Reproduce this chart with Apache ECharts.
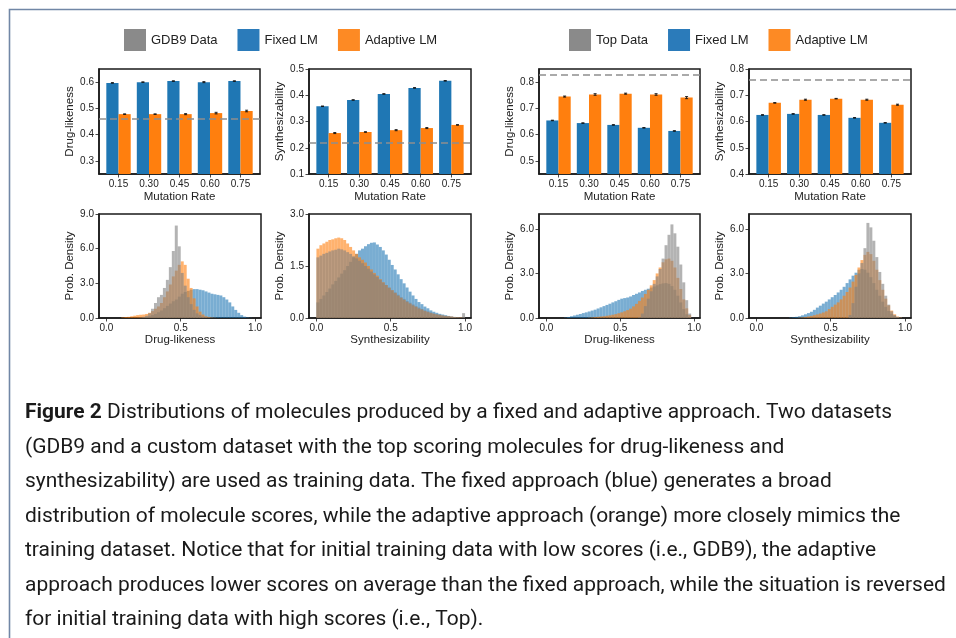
<!DOCTYPE html>
<html><head><meta charset="utf-8">
<script src="https://cdn.jsdelivr.net/npm/echarts@6/dist/echarts.min.js"></script>
<style>html,body{margin:0;padding:0;background:#fff}#c{width:956px;height:638px}</style>
</head><body><div id="c"></div>
<script>
// ---------------- data ----------------
const mutationRates = ['0.15', '0.30', '0.45', '0.60', '0.75'];

const gdb9DrugFixed    = [0.597, 0.600, 0.604, 0.600, 0.604];
const gdb9DrugAdaptive = [0.478, 0.478, 0.478, 0.482, 0.490];
const gdb9DrugFixedErr    = [0.001, 0.001, 0.001, 0.002, 0.001];
const gdb9DrugAdaptiveErr = [0.001, 0.001, 0.002, 0.003, 0.003];
const gdb9DrugDataMean = 0.455;

const gdb9SynthFixed    = [0.358, 0.382, 0.405, 0.428, 0.455];
const gdb9SynthAdaptive = [0.256, 0.260, 0.267, 0.275, 0.287];
const gdb9SynthFixedErr    = [0.001, 0.001, 0.001, 0.001, 0.001];
const gdb9SynthAdaptiveErr = [0.002, 0.001, 0.002, 0.002, 0.001];
const gdb9SynthDataMean = 0.219;

const topDrugFixed    = [0.654, 0.644, 0.637, 0.626, 0.614];
const topDrugAdaptive = [0.745, 0.753, 0.756, 0.753, 0.741];
const topDrugFixedErr    = [0.001, 0.001, 0.001, 0.001, 0.001];
const topDrugAdaptiveErr = [0.002, 0.003, 0.002, 0.003, 0.004];
const topDrugDataMean = 0.826;

const topSynthFixed    = [0.625, 0.629, 0.625, 0.614, 0.595];
const topSynthAdaptive = [0.671, 0.683, 0.687, 0.683, 0.664];
const topSynthFixedErr    = [0.001, 0.001, 0.001, 0.001, 0.001];
const topSynthAdaptiveErr = [0.001, 0.002, 0.001, 0.002, 0.002];
const topSynthDataMean = 0.755;

// tick labels
const gdb9DrugTicks  = [0.3, 0.4, 0.5, 0.6];
const gdb9SynthTicks = [0.1, 0.2, 0.3, 0.4, 0.5];
const topDrugTicks   = [0.5, 0.6, 0.7, 0.8];
const topSynthTicks  = [0.4, 0.5, 0.6, 0.7, 0.8];
const scoreTicks     = [0.0, 0.5, 1.0];
const gdb9DrugDensTicks  = [0, 3, 6, 9];
const gdb9SynthDensTicks = [0, 1.5, 3];
const topDensTicks       = [0, 3, 6];

// histogram bins (left edges)
const binStarts = [0.00,0.02,0.04,0.06,0.08,0.10,0.12,0.14,0.16,0.18,
                   0.20,0.22,0.24,0.26,0.28,0.30,0.32,0.34,0.36,0.38,
                   0.40,0.42,0.44,0.46,0.48,0.50,0.52,0.54,0.56,0.58,
                   0.60,0.62,0.64,0.66,0.68,0.70,0.72,0.74,0.76,0.78,
                   0.80,0.82,0.84,0.86,0.88,0.90,0.92,0.94,0.96,0.98];
const binWidth = 0.02;

const gdb9DrugHistData = [0,0,0,0,0,0,0,0,0,0,
  0.02,0.05,0.1,0.2,0.4,0.8,1.3,1.8,2.0,2.6,
  3.3,4.4,5.8,8.0,6.2,3.9,2.8,1.8,1.2,0.7,
  0.4,0.25,0.12,0.06,0.03,0,0,0,0,0,
  0,0,0,0,0,0,0,0,0,0];
const gdb9DrugHistFixed = [0,0,0,0,0,0,0,0,0,0,
  0,0,0.05,0.1,0.15,0.25,0.35,0.5,0.65,0.85,
  1.05,1.25,1.45,1.6,1.85,2.1,2.25,2.35,2.45,2.5,
  2.5,2.45,2.4,2.3,2.2,2.1,2.05,2.0,1.95,1.8,
  1.6,1.35,1.0,0.7,0.45,0.25,0.12,0.05,0.02,0];
const gdb9DrugHistAdaptive = [0,0,0,0,0,0.05,0.08,0.1,0.15,0.2,
  0.25,0.28,0.3,0.35,0.45,0.6,0.8,1.0,1.3,1.8,
  2.3,2.9,3.6,4.1,4.6,4.9,4.6,3.4,2.6,1.7,
  1.0,0.55,0.3,0.15,0.08,0.04,0.02,0,0,0,
  0,0,0,0,0,0,0,0,0,0];

const gdb9SynthHistData = [1.75,1.8,1.85,1.88,1.92,1.95,1.97,2.0,1.98,1.95,
  1.9,1.85,1.78,1.72,1.65,1.58,1.5,1.42,1.34,1.26,
  1.18,1.1,1.02,0.95,0.88,0.8,0.74,0.67,0.6,0.55,
  0.49,0.44,0.39,0.34,0.3,0.26,0.22,0.19,0.16,0.13,
  0.11,0.09,0.07,0.06,0.05,0.04,0.03,0.02,0.02,0.14];
const gdb9SynthHistFixed = [0.45,0.55,0.65,0.75,0.85,0.97,1.07,1.17,1.28,1.38,
  1.5,1.62,1.75,1.85,1.95,2.0,2.07,2.13,2.17,2.18,
  2.12,2.05,1.95,1.83,1.68,1.53,1.4,1.26,1.12,1.0,
  0.88,0.76,0.65,0.55,0.46,0.4,0.33,0.28,0.22,0.18,
  0.15,0.12,0.1,0.08,0.06,0.04,0.03,0.02,0.01,0.01];
const gdb9SynthHistAdaptive = [2.0,2.1,2.15,2.2,2.25,2.27,2.3,2.32,2.3,2.25,
  2.15,2.05,1.95,1.85,1.75,1.68,1.6,1.5,1.4,1.3,
  1.22,1.12,1.03,0.95,0.87,0.8,0.72,0.64,0.58,0.52,
  0.46,0.41,0.36,0.32,0.27,0.24,0.2,0.17,0.14,0.12,
  0.1,0.09,0.07,0.06,0.05,0.04,0.03,0.02,0.02,0.01];

const topDrugHistData = [0,0,0,0,0,0,0,0,0,0,
  0,0,0,0,0,0,0,0,0,0,
  0,0,0,0,0,0,0,0,0,0,
  0,0.05,0.3,0.8,1.3,1.8,2.3,2.8,3.3,4.0,
  4.9,5.6,6.3,5.7,4.8,3.6,2.4,1.2,0.3,0];
const topDrugHistFixed = [0,0,0,0,0,0,0.03,0.07,0.12,0.17,
  0.22,0.27,0.33,0.38,0.44,0.5,0.56,0.64,0.72,0.8,
  0.88,0.96,1.05,1.13,1.22,1.3,1.34,1.38,1.45,1.55,
  1.63,1.72,1.82,1.9,1.97,2.05,2.12,2.2,2.28,2.33,
  2.35,2.3,2.15,1.9,1.5,1.05,0.6,0.25,0.05,0];
const topDrugHistAdaptive = [0,0,0,0,0,0,0,0,0,0,
  0,0,0,0,0.02,0.04,0.06,0.08,0.1,0.12,
  0.15,0.18,0.22,0.26,0.32,0.38,0.45,0.53,0.63,0.78,
  0.95,1.15,1.38,1.62,1.9,2.2,2.55,3.0,3.4,3.75,
  3.95,4.0,3.85,3.4,2.7,1.95,1.25,0.65,0.2,0];

const topSynthHistData = [0,0,0,0,0,0,0,0,0,0,
  0,0,0,0,0,0,0,0,0,0,
  0,0,0,0,0,0,0,0,0,0,
  0,0.2,1.0,2.1,3.0,3.7,4.7,6.4,6.1,5.2,
  4.1,3.1,2.3,1.5,0.9,0.45,0.2,0.07,0.02,0];
const topSynthHistFixed = [0,0,0,0,0,0,0,0,0,0,
  0,0.03,0.05,0.08,0.12,0.18,0.25,0.33,0.42,0.55,
  0.7,0.83,0.97,1.1,1.25,1.4,1.55,1.72,1.9,2.1,
  2.35,2.6,2.85,3.05,3.25,3.3,3.25,3.05,2.75,2.35,
  1.9,1.5,1.1,0.75,0.47,0.28,0.14,0.06,0.02,0];
const topSynthHistAdaptive = [0,0,0,0,0,0,0,0,0,0,
  0,0,0,0,0.02,0.04,0.06,0.1,0.14,0.19,
  0.24,0.3,0.37,0.45,0.6,0.75,0.9,1.05,1.25,1.5,
  1.75,2.05,2.45,2.9,3.4,3.9,4.25,4.45,4.3,3.85,
  3.25,2.55,1.9,1.3,0.85,0.5,0.25,0.1,0.03,0];

const captionLines = [
  'Distributions of molecules produced by a fixed and adaptive approach. Two datasets',
  '(GDB9 and a custom dataset with the top scoring molecules for drug-likeness and',
  'synthesizability) are used as training data. The fixed approach (blue) generates a broad',
  'distribution of molecule scores, while the adaptive approach (orange) more closely mimics the',
  'training dataset. Notice that for initial training data with low scores (i.e., GDB9), the adaptive',
  'approach produces lower scores on average than the fixed approach, while the situation is reversed',
  'for initial training data with high scores (i.e., Top).'
];
const captionLabel = 'Figure 2';

// ---------------- styling / layout ----------------
const FONT = '"Liberation Sans", Arial, sans-serif';
const CAP_FONT = 'Roboto, "DejaVu Sans", sans-serif';
const BLUE = '#1f77b4', ORANGE = '#ff7f0e';
const H_BLUE = 'rgba(31,119,180,0.6)', H_ORANGE = 'rgba(255,127,14,0.6)', H_GRAY = 'rgba(128,128,128,0.6)';
const AX = '#1a1a1a', TXT = '#222';

const gridPos = [
  [99, 69, 161, 105], [309, 69, 162, 105], [539, 69, 161, 105], [749, 69, 162, 105],
  [99, 214, 162, 104], [309, 214, 162, 104], [539, 214, 161, 104], [749, 214, 162, 104]
];
const grid = gridPos.map(p => ({left: p[0], top: p[1], width: p[2], height: p[3], show: true,
  borderColor: AX, borderWidth: 1.5, backgroundColor: 'transparent', containLabel: false, outerBoundsMode: 'none'}));

const idx = mutationRates.map((_, i) => i);
const nameStyle = {fontFamily: FONT, fontSize: 11.5, color: TXT};
const labStyle = {fontFamily: FONT, fontSize: 10, color: TXT};

function xBar(gi) {
  return {type: 'value', gridIndex: gi, min: -0.64, max: 4.64,
    name: 'Mutation Rate', nameLocation: 'middle', nameGap: 17, nameTextStyle: nameStyle,
    axisLine: {show: true, onZero: false, lineStyle: {color: AX, width: 1.5}},
    axisTick: {show: true, length: 3.5, customValues: idx, lineStyle: {color: AX, width: 0.8}},
    axisLabel: Object.assign({customValues: idx, margin: 5, formatter: v => mutationRates[Math.round(v)]}, labStyle),
    splitLine: {show: false}};
}
function xHist(gi, name) {
  return {type: 'value', gridIndex: gi, min: -0.05, max: 1.04,
    name: name, nameLocation: 'middle', nameGap: 15, nameTextStyle: nameStyle,
    axisLine: {show: true, onZero: false, lineStyle: {color: AX, width: 1.5}},
    axisTick: {show: true, length: 3.5, customValues: scoreTicks, lineStyle: {color: AX, width: 0.8}},
    axisLabel: Object.assign({customValues: scoreTicks, margin: 5, formatter: v => v.toFixed(1)}, labStyle),
    splitLine: {show: false}};
}
function yAx(gi, min, max, ticks, name) {
  return {type: 'value', gridIndex: gi, min: min, max: max,
    name: name, nameLocation: 'middle', nameGap: 23, nameTextStyle: nameStyle,
    axisLine: {show: true, onZero: false, lineStyle: {color: AX, width: 1.5}},
    axisTick: {show: true, length: 3.5, customValues: ticks, lineStyle: {color: AX, width: 0.8}},
    axisLabel: Object.assign({customValues: ticks, margin: 5, formatter: v => v.toFixed(1)}, labStyle),
    splitLine: {show: false}};
}

const xAxis = [xBar(0), xBar(1), xBar(2), xBar(3),
  xHist(4, 'Drug-likeness'), xHist(5, 'Synthesizability'), xHist(6, 'Drug-likeness'), xHist(7, 'Synthesizability')];
const yAxis = [
  yAx(0, 0.25, 0.65, gdb9DrugTicks, 'Drug-likeness'),
  yAx(1, 0.1, 0.5, gdb9SynthTicks, 'Synthesizability'),
  yAx(2, 0.45, 0.85, topDrugTicks, 'Drug-likeness'),
  yAx(3, 0.4, 0.8, topSynthTicks, 'Synthesizability'),
  yAx(4, 0, 9, gdb9DrugDensTicks, 'Prob. Density'),
  yAx(5, 0, 3, gdb9SynthDensTicks, 'Prob. Density'),
  yAx(6, 0, 7, topDensTicks, 'Prob. Density'),
  yAx(7, 0, 7, topDensTicks, 'Prob. Density')
];

function barRender(offset, color) {
  return function (params, api) {
    const i = api.value(0), v = api.value(1);
    const tl = api.coord([i + offset, v]);
    const tr = api.coord([i + offset + 0.4, v]);
    const cs = params.coordSys;
    const bottom = cs.y + cs.height;
    return {type: 'rect', shape: {x: tl[0], y: tl[1], width: tr[0] - tl[0], height: bottom - tl[1]}, style: {fill: color}};
  };
}
function errRender(offset) {
  return function (params, api) {
    const x = api.value(0) + offset + 0.2, v = api.value(1), e = api.value(2);
    const lo = api.coord([x, v - e]), hi = api.coord([x, v + e]);
    const st = {stroke: '#111', lineWidth: 0.9};
    return {type: 'group', children: [
      {type: 'line', shape: {x1: lo[0], y1: lo[1], x2: hi[0], y2: hi[1]}, style: st},
      {type: 'line', shape: {x1: lo[0] - 1.5, y1: lo[1], x2: lo[0] + 1.5, y2: lo[1]}, style: st},
      {type: 'line', shape: {x1: hi[0] - 1.5, y1: hi[1], x2: hi[0] + 1.5, y2: hi[1]}, style: st}
    ]};
  };
}
function histRender(color) {
  return function (params, api) {
    const x0 = api.value(0), v = api.value(1);
    if (!v) return null;
    const p1 = api.coord([x0, v]), p2 = api.coord([x0 + binWidth, 0]);
    return {type: 'rect', shape: {x: p1[0], y: p1[1], width: p2[0] - p1[0], height: p2[1] - p1[1]}, style: {fill: color}};
  };
}

const series = [];
function addBars(gi, fixed, adaptive, fixedErr, adaptiveErr, mean, dataName) {
  series.push({type: 'custom', name: 'Fixed LM', xAxisIndex: gi, yAxisIndex: gi, clip: true, z: 2,
    renderItem: barRender(-0.4, BLUE), data: fixed.map((v, i) => [i, v]), itemStyle: {color: BLUE}});
  series.push({type: 'custom', name: 'Adaptive LM', xAxisIndex: gi, yAxisIndex: gi, clip: true, z: 2,
    renderItem: barRender(0, ORANGE), data: adaptive.map((v, i) => [i, v]), itemStyle: {color: ORANGE}});
  series.push({type: 'custom', name: 'Fixed LM', xAxisIndex: gi, yAxisIndex: gi, z: 3,
    renderItem: errRender(-0.4), data: fixed.map((v, i) => [i, v, fixedErr[i]])});
  series.push({type: 'custom', name: 'Adaptive LM', xAxisIndex: gi, yAxisIndex: gi, z: 3,
    renderItem: errRender(0), data: adaptive.map((v, i) => [i, v, adaptiveErr[i]])});
  series.push({type: 'line', name: dataName, xAxisIndex: gi, yAxisIndex: gi, data: [], z: 4,
    markLine: {silent: true, symbol: ['none', 'none'], label: {show: false},
      lineStyle: {type: [7, 4], color: '#8f8f8f', width: 1.6},
      data: [{yAxis: mean}]}});
}
function addHist(gi, data, fixed, adaptive, dataName) {
  series.push({type: 'custom', name: 'Fixed LM', xAxisIndex: gi, yAxisIndex: gi, clip: true, z: 2,
    renderItem: histRender(H_BLUE), data: binStarts.map((b, i) => [b, fixed[i]])});
  series.push({type: 'custom', name: 'Adaptive LM', xAxisIndex: gi, yAxisIndex: gi, clip: true, z: 3,
    renderItem: histRender(H_ORANGE), data: binStarts.map((b, i) => [b, adaptive[i]])});
  series.push({type: 'custom', name: dataName, xAxisIndex: gi, yAxisIndex: gi, clip: true, z: 4,
    renderItem: histRender(H_GRAY), data: binStarts.map((b, i) => [b, data[i]])});
}
addBars(0, gdb9DrugFixed, gdb9DrugAdaptive, gdb9DrugFixedErr, gdb9DrugAdaptiveErr, gdb9DrugDataMean, 'GDB9 Data');
addBars(1, gdb9SynthFixed, gdb9SynthAdaptive, gdb9SynthFixedErr, gdb9SynthAdaptiveErr, gdb9SynthDataMean, 'GDB9 Data');
addBars(2, topDrugFixed, topDrugAdaptive, topDrugFixedErr, topDrugAdaptiveErr, topDrugDataMean, 'Top Data');
addBars(3, topSynthFixed, topSynthAdaptive, topSynthFixedErr, topSynthAdaptiveErr, topSynthDataMean, 'Top Data');
addHist(4, gdb9DrugHistData, gdb9DrugHistFixed, gdb9DrugHistAdaptive, 'GDB9 Data');
addHist(5, gdb9SynthHistData, gdb9SynthHistFixed, gdb9SynthHistAdaptive, 'GDB9 Data');
addHist(6, topDrugHistData, topDrugHistFixed, topDrugHistAdaptive, 'Top Data');
addHist(7, topSynthHistData, topSynthHistFixed, topSynthHistAdaptive, 'Top Data');

function legendCfg(left, dataName) {
  return {left: left, top: 29, padding: 0, orient: 'horizontal', itemWidth: 22, itemHeight: 22, itemGap: 20,
    selectedMode: false, textStyle: {fontFamily: FONT, fontSize: 13, color: TXT},
    data: [
      {name: dataName, icon: 'rect', itemStyle: {color: '#8a8a8a'}},
      {name: 'Fixed LM', icon: 'rect', itemStyle: {color: '#2b7bba'}},
      {name: 'Adaptive LM', icon: 'rect', itemStyle: {color: '#fd8a24'}}
    ]};
}

// caption font size fitted to the reference line width
const mctx = document.createElement('canvas').getContext('2d');
mctx.font = '100px ' + CAP_FONT;
const capSize = Math.min(21, 100 * 921 / mctx.measureText(captionLines[5]).width);

const graphic = [{type: 'rect', silent: true, shape: {x: 9.5, y: 9.5, width: 1100, height: 1100},
  style: {fill: 'none', stroke: '#7187a6', lineWidth: 1.6}}];
captionLines.forEach((ln, k) => {
  graphic.push({type: 'text', silent: true, x: 25, y: 413 + k * 34.5, style: {
    text: k === 0 ? '{b|' + captionLabel + '} ' + ln : ln,
    fontFamily: CAP_FONT, fontSize: capSize, fill: '#1a1a1a', verticalAlign: 'middle',
    rich: {b: {fontFamily: CAP_FONT, fontSize: capSize, fontWeight: 'bold', fill: '#1a1a1a'}}}});
});

const chart = echarts.init(document.getElementById('c'), null, {renderer: 'canvas'});
chart.setOption({
  animation: false,
  backgroundColor: '#fff',
  legend: [legendCfg(124, 'GDB9 Data'), legendCfg(569, 'Top Data')],
  grid: grid, xAxis: xAxis, yAxis: yAxis, series: series, graphic: graphic
});
</script></body></html>
